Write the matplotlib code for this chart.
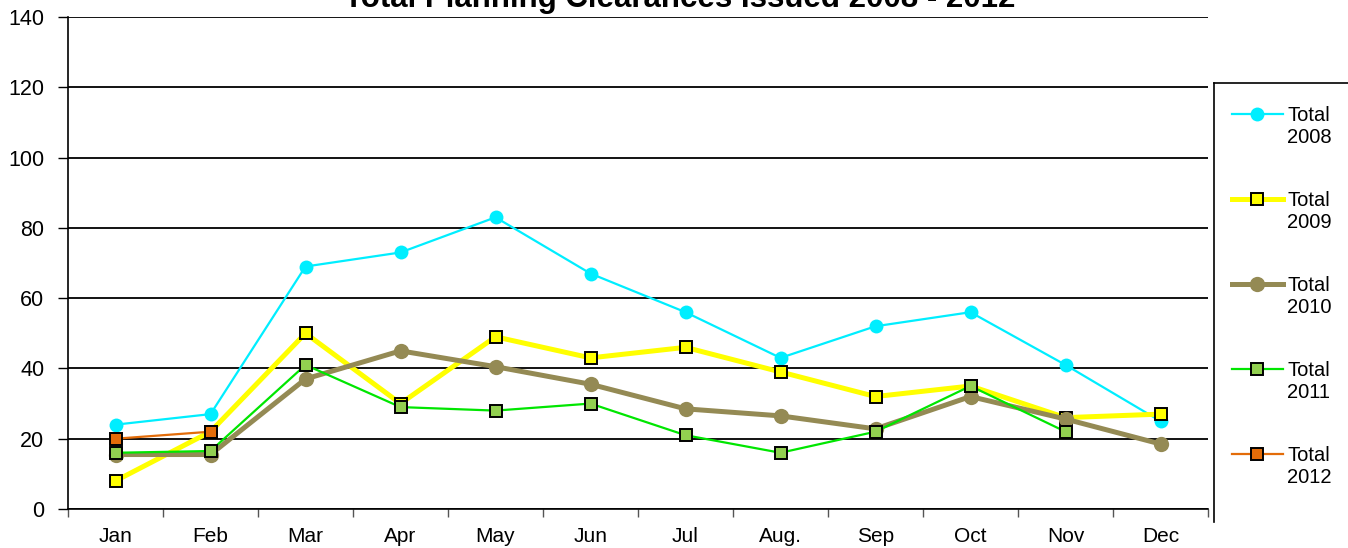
import matplotlib
matplotlib.use("Agg")
import matplotlib.pyplot as plt
import numpy as np

plt.rcParams['font.family'] = ['Liberation Sans', 'DejaVu Sans']

months = ["Jan", "Feb", "Mar", "Apr", "May", "Jun", "Jul", "Aug.", "Sep", "Oct", "Nov", "Dec"]
total_2008 = [24, 27, 69, 73, 83, 67, 56, 43, 52, 56, 41, 25]
total_2009 = [8, 22, 50, 30, 49, 43, 46, 39, 32, 35, 26, 27]
total_2010 = [15.5, 15.5, 37, 45, 40.5, 35.5, 28.5, 26.5, 22.8, 32, 25.6, 18.5]
total_2011 = [16, 16.5, 41, 29, 28, 30, 21, 16, 22, 35, 22, np.nan]
total_2012 = [20, 22, np.nan, np.nan, np.nan, np.nan, np.nan, np.nan, np.nan, np.nan, np.nan, np.nan]
labels = ["Total\n2008", "Total\n2009", "Total\n2010", "Total\n2011", "Total\n2012"]
title = "Total Planning Clearances Issued 2008 - 2012"

styles = [
    dict(color="#00EEFF", lw=1.6, marker="o", ms=10, mfc="#00EEFF", mec="#00EEFF", mew=0),
    dict(color="#FFFF00", lw=3.6, marker="s", ms=9, mfc="#FFFF00", mec="black", mew=1.4),
    dict(color="#948A54", lw=3.6, marker="o", ms=11, mfc="#948A54", mec="#948A54", mew=0),
    dict(color="#00E600", lw=1.6, marker="s", ms=9, mfc="#92D050", mec="black", mew=1.4),
    dict(color="#E36C09", lw=1.6, marker="s", ms=9, mfc="#E36C09", mec="black", mew=1.4),
]
series = [total_2008, total_2009, total_2010, total_2011, total_2012]

W, H = 1348, 548
fig = plt.figure(figsize=(W / 100, H / 100), dpi=100)
ax = fig.add_axes([68 / W, 1 - 509 / H, (1208 - 68) / W, (509 - 17) / H])

x = np.arange(len(months))
for s, st in zip(series, styles):
    ax.plot(x, s, **st, clip_on=False, zorder=3)

ax.set_xlim(-0.5, 11.5)
ax.set_ylim(0, 140)
ax.set_yticks(np.arange(0, 141, 20))
ax.tick_params(axis='y', direction='out', length=7, width=1, pad=10, labelsize=15.5)
ax.set_xticks(np.arange(-0.5, 12, 1))
ax.set_xticklabels([])
ax.set_xticks(x, minor=True)
ax.set_xticklabels(months, minor=True)
ax.tick_params(axis='x', which='major', direction='out', length=6, width=1, color='#555555')
ax.tick_params(axis='x', which='minor', length=0, pad=13, labelsize=15)
ax.grid(axis='y', color='black', lw=1.3, zorder=1)
ax.set_axisbelow(True)
for sp in ['top', 'right']:
    ax.spines[sp].set_visible(False)
ax.spines['left'].set_linewidth(1.2)
ax.spines['bottom'].set_linewidth(1.2)

fig.text(680 / W, 1 - 7 / H, title, ha='center', va='baseline', fontsize=22.5, fontweight='bold')

# legend panel
lx0, ly_top, ly_bot = 1214, 83, 522
lax = fig.add_axes([lx0 / W, 1 - ly_bot / H, 300 / W, (ly_bot - ly_top) / H])
lax.set_xlim(lx0, lx0 + 300)
lax.set_ylim(ly_bot, ly_top)
lax.set_xticks([]); lax.set_yticks([])
lax.patch.set_alpha(0)
for sp in ['right', 'bottom']:
    lax.spines[sp].set_visible(False)
for sp in ['left', 'top']:
    lax.spines[sp].set_linewidth(1.2)
rows = [114, 199, 284, 369, 454]
for yy, st, lab in zip(rows, styles, labels):
    lax.plot([1232, 1283], [yy, yy], color=st['color'], lw=st['lw'])
    lax.plot([1257], [yy], linestyle='none', marker=st['marker'], ms=st['ms'],
             mfc=st['mfc'], mec=st['mec'], mew=st['mew'])
    lax.text(1287, yy + 29, lab, ha='left', va='baseline', fontsize=14.5, linespacing=1.2,
             multialignment='left', transform=lax.transData)

fig.savefig("out.png", dpi=100)
